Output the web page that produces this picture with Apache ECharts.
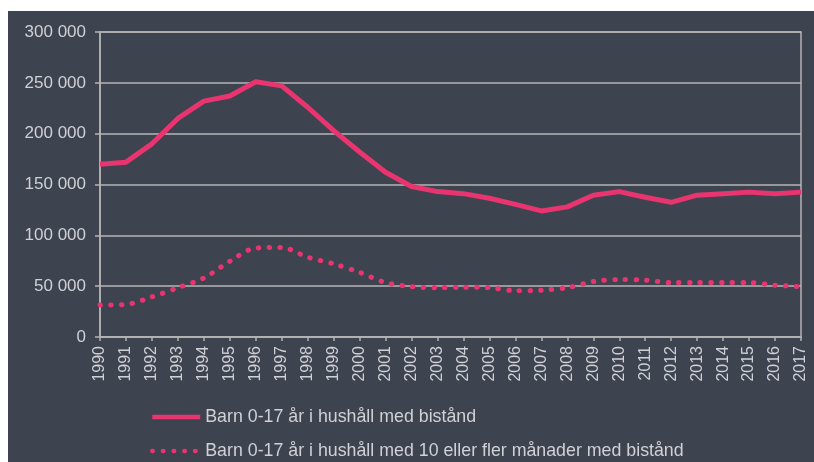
<!DOCTYPE html>
<html>
<head>
<meta charset="utf-8">
<script src="https://cdn.jsdelivr.net/npm/echarts@6/dist/echarts.min.js"></script>
<style>
  html, body { margin: 0; padding: 0; background: #ffffff; }
  #panel { position: absolute; left: 8px; top: 11px; width: 806px; height: 451px; background: #3e4350; }
  #chart { position: absolute; left: 0; top: 0; width: 814px; height: 462px; }
</style>
</head>
<body>
<div id="panel"></div>
<div id="chart"></div>
<script>
// år
const years = ['1990','1991','1992','1993','1994','1995','1996','1997','1998','1999',
  '2000','2001','2002','2003','2004','2005','2006','2007','2008','2009',
  '2010','2011','2012','2013','2014','2015','2016','2017'];

// Barn 0-17 år i hushåll med bistånd
const barnBistand = [170000, 172000, 190000, 215000, 232000, 237000, 251000, 247000, 226000, 203000,
  182000, 162000, 148000, 143000, 141000, 136500, 130500, 124000, 128000, 139500,
  143000, 137500, 132500, 139500, 141000, 142500, 141000, 142500];

// Barn 0-17 år i hushåll med 10 eller fler månader med bistånd
const barnLangvarigt = [31500, 32000, 39500, 48500, 58000, 74500, 87500, 88000, 78500, 72000,
  63500, 53500, 49500, 48500, 49000, 48500, 45500, 46000, 48500, 54500,
  56500, 56000, 53500, 53500, 53500, 53500, 51000, 49500];

const namn1 = 'Barn 0-17 år i hushåll med bistånd';
const namn2 = 'Barn 0-17 år i hushåll med 10 eller fler månader med bistånd';

const rosa = '#e8346f';
const textFarg = '#cfd1d6';
const linjeFarg = '#b4b4b4';

const chart = echarts.init(document.getElementById('chart'));

const option = {
  backgroundColor: 'transparent',
  animation: false,
  textStyle: { fontFamily: 'Liberation Sans, Arial, sans-serif' },
  grid: {
    left: 100, right: 13, top: 32, bottom: 125,
    show: true, borderColor: linjeFarg, borderWidth: 1.5
  },
  legend: {
    orient: 'vertical',
    left: 150, top: 408, padding: 0,
    itemWidth: 48, itemHeight: 16, itemGap: 16,
    itemStyle: { opacity: 0 },
    lineStyle: { width: 4.5 },
    textStyle: { color: textFarg, fontSize: 17.8, lineHeight: 16 },
    data: [namn1, namn2]
  },
  xAxis: {
    type: 'category',
    data: years,
    boundaryGap: false,
    axisLine: { lineStyle: { color: linjeFarg, width: 1.5 } },
    axisTick: { show: true, length: 4, lineStyle: { color: linjeFarg, width: 1.5 } },
    axisLabel: { rotate: 90, color: textFarg, fontSize: 16, margin: 9, interval: 0 },
    splitLine: { show: false }
  },
  yAxis: {
    type: 'value',
    min: 0, max: 300000, interval: 50000,
    axisLine: { show: true, lineStyle: { color: linjeFarg, width: 1.5 } },
    axisTick: { show: true, length: 5, lineStyle: { color: linjeFarg, width: 1.5 } },
    axisLabel: {
      color: textFarg, fontSize: 17, margin: 14,
      formatter: v => v === 0 ? '0' : String(v).replace(/\B(?=(\d{3})+(?!\d))/g, ' ')
    },
    splitLine: { lineStyle: { color: linjeFarg, width: 1.5 } }
  },
  series: [
    {
      name: namn1,
      type: 'line',
      data: barnBistand,
      symbol: 'none',
      color: rosa,
      lineStyle: { color: rosa, width: 5, join: 'round' }
    },
    {
      name: namn2,
      type: 'line',
      data: barnLangvarigt,
      symbol: 'none',
      smooth: 0.3,
      color: rosa,
      lineStyle: { color: rosa, width: 5, type: [0.5, 10.2], cap: 'round' }
    }
  ]
};

chart.setOption(option);
</script>
</body>
</html>
